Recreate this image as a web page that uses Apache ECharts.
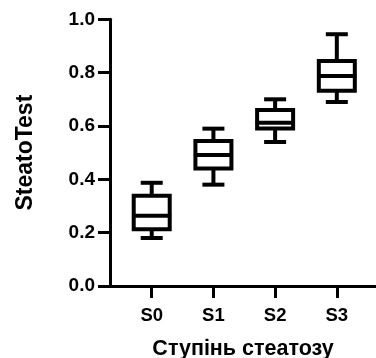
<!DOCTYPE html>
<html>
<head>
<meta charset="utf-8">
<script src="https://cdn.jsdelivr.net/npm/echarts@6/dist/echarts.min.js"></script>
<style>
  html, body { margin: 0; padding: 0; background: #fff; }
  #chart { width: 376px; height: 358px; }
</style>
</head>
<body>
<div id="chart"></div>
<script>
  // box plot data per steatosis stage
  const categories = ['S0', 'S1', 'S2', 'S3']
  const mins = [0.18, 0.38, 0.54, 0.69]
  const q1s = [0.213, 0.441, 0.591, 0.732]
  const medians = [0.263, 0.491, 0.612, 0.787]
  const q3s = [0.338, 0.544, 0.66, 0.844]
  const maxs = [0.387, 0.59, 0.70, 0.944]
  const yTicks = [0, 0.2, 0.4, 0.6, 0.8, 1.0]

  const chart = echarts.init(document.getElementById('chart'))

  const font = 'Liberation Sans, Arial, sans-serif'
  const boxData = categories.map((c, i) => [i, mins[i], q1s[i], medians[i], q3s[i], maxs[i]])

  const renderBox = (params, api) => {
    const x = api.value(0)
    const p = (v) => api.coord([x, v])
    const pMin = p(api.value(1)), pQ1 = p(api.value(2)), pMed = p(api.value(3))
    const pQ3 = p(api.value(4)), pMax = p(api.value(5))
    const cx = pMin[0]
    const half = 18
    const cap = 11
    const lw = 4
    const style = { stroke: '#000', lineWidth: lw, fill: null }
    return {
      type: 'group',
      children: [
        { type: 'line', shape: { x1: cx, y1: pMax[1], x2: cx, y2: pQ3[1] }, style },
        { type: 'line', shape: { x1: cx, y1: pQ1[1], x2: cx, y2: pMin[1] }, style },
        { type: 'line', shape: { x1: cx - cap, y1: pMax[1], x2: cx + cap, y2: pMax[1] }, style },
        { type: 'line', shape: { x1: cx - cap, y1: pMin[1], x2: cx + cap, y2: pMin[1] }, style },
        { type: 'rect', shape: { x: cx - half, y: pQ3[1], width: half * 2, height: pQ1[1] - pQ3[1] }, style: { stroke: '#000', lineWidth: lw, fill: '#fff' } },
        { type: 'line', shape: { x1: cx - half - 1.5, y1: pMed[1], x2: cx + half + 1.5, y2: pMed[1] }, style }
      ]
    }
  }

  const option = {
    animation: false,
    grid: {
      left: 110,
      right: 0,
      top: 19.3,
      bottom: 72,
      containLabel: false,
      outerBoundsMode: 'none'
    },
    xAxis: {
      type: 'value',
      min: -0.676,
      max: 3.635,
      name: 'Ступінь стеатозу',
      nameLocation: 'middle',
      nameGap: 52,
      nameTextStyle: { fontFamily: font, fontWeight: 'bold', fontSize: 21.5, color: '#000' },
      splitLine: { show: false },
      axisLine: { show: true, onZero: false, lineStyle: { color: '#000', width: 3 } },
      axisTick: {
        show: true,
        length: 12,
        customValues: [0, 1, 2, 3],
        lineStyle: { color: '#000', width: 3 }
      },
      axisLabel: {
        customValues: [0, 1, 2, 3],
        formatter: (v) => categories[Math.round(v)],
        margin: 20,
        fontFamily: font,
        fontWeight: 'bold',
        fontSize: 18.5,
        color: '#000'
      }
    },
    yAxis: {
      type: 'value',
      min: 0,
      max: 1,
      interval: 0.2,
      name: 'SteatoTest',
      nameLocation: 'middle',
      nameGap: 73,
      nameTextStyle: { fontFamily: font, fontWeight: 'bold', fontSize: 23, color: '#000' },
      splitLine: { show: false },
      axisLine: { show: true, onZero: false, lineStyle: { color: '#000', width: 3 } },
      axisTick: { show: true, length: 12, lineStyle: { color: '#000', width: 3 } },
      axisLabel: {
        margin: 15,
        formatter: (v) => yTicks.includes(+v.toFixed(1)) ? v.toFixed(1) : '',
        fontFamily: font,
        fontWeight: 'bold',
        fontSize: 19,
        color: '#000'
      }
    },
    series: [
      {
        type: 'custom',
        renderItem: renderBox,
        encode: { x: 0, y: [1, 2, 3, 4, 5] },
        data: boxData
      }
    ]
  }

  chart.setOption(option)
</script>
</body>
</html>
